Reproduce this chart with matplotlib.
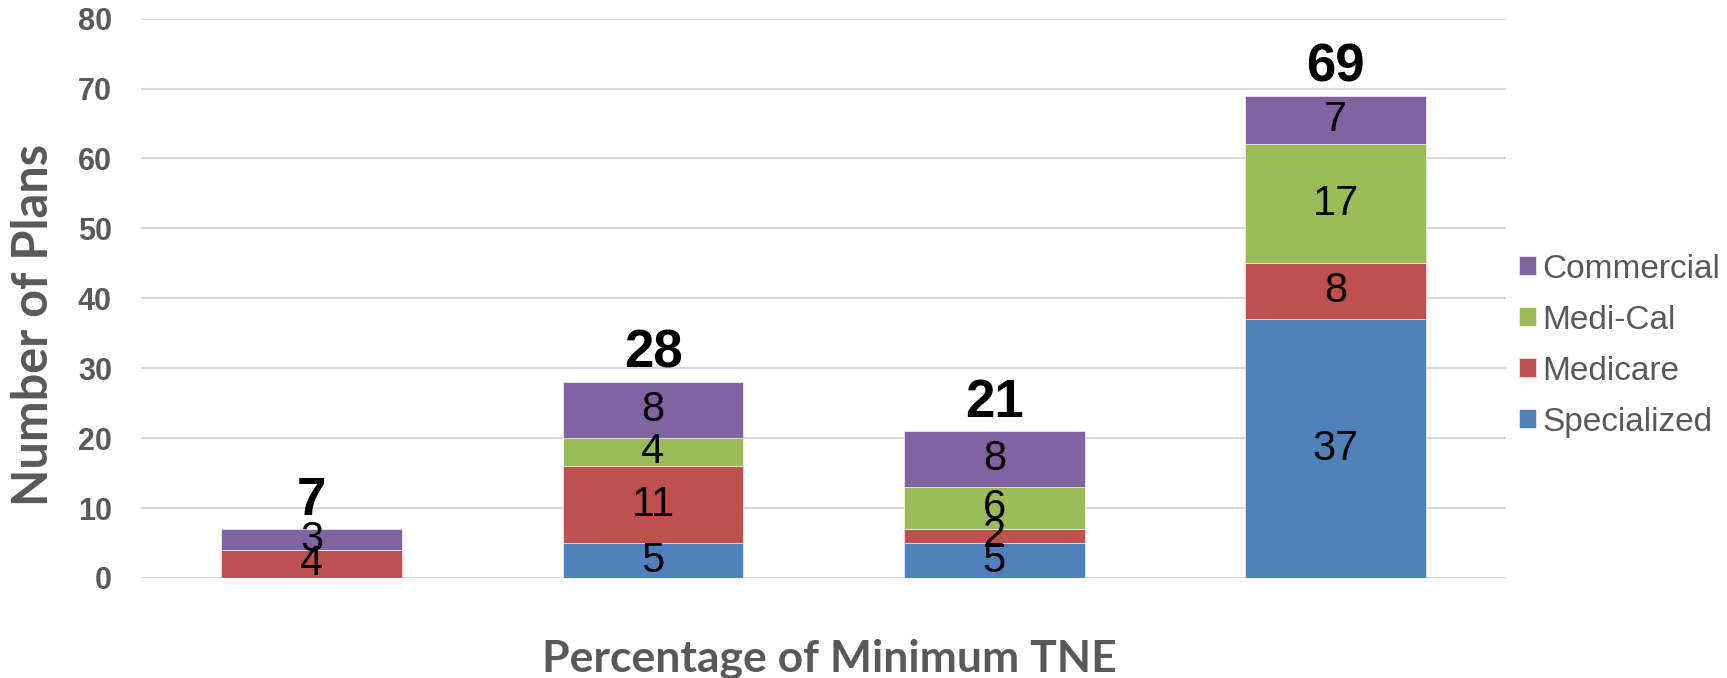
import matplotlib.pyplot as plt
import numpy as np

# chart data
groups = ["A", "B", "C", "D"]   # category names are not shown on the chart
specialized = [0, 5, 5, 37]
medicare = [4, 11, 2, 8]
medical = [0, 4, 6, 17]
commercial = [3, 8, 8, 7]
series_names = ["Specialized", "Medicare", "Medi-Cal", "Commercial"]
series_colors = ["#4F81BD", "#C0504D", "#9BBB59", "#8064A2"]
yticks = list(range(0, 81, 10))

fig = plt.figure(figsize=(17.27, 6.78), dpi=100)
ax = fig.add_axes([0.0817, 0.1475, 0.7905, 0.825])

x = np.arange(len(groups))
series = [specialized, medicare, medical, commercial]
bottom = np.zeros(len(groups))
for vals, name, col in zip(series, series_names, series_colors):
    vals = np.array(vals)
    ax.bar(x, vals, 0.53, bottom=bottom, color=col, label=name,
           edgecolor="white", linewidth=0.4, zorder=2)
    for xi, v, b in zip(x, vals, bottom):
        if v > 0:
            ax.text(xi, b + v / 2, str(v), ha="center", va="center",
                    fontsize=30, color="black", family="Liberation Sans", zorder=3)
    bottom += vals

# totals above each bar
for xi, tot in zip(x, bottom):
    ax.text(xi, tot + 0.5, str(int(tot)), ha="center", va="bottom",
            fontsize=38, fontweight="bold", color="black", family="Liberation Sans")

ax.set_xlim(-0.5, 3.5)
ax.set_ylim(0, 80)
ax.set_yticks(yticks)
ax.set_yticklabels([str(t) for t in yticks], fontsize=22, fontweight="bold",
                   color="#595959", family="Liberation Sans")
ax.set_xticks([])
ax.yaxis.grid(True, color="#D9D9D9", linewidth=1.5, zorder=0)
ax.set_axisbelow(True)
for s in ax.spines.values():
    s.set_visible(False)
ax.tick_params(axis="y", length=0, pad=21)

fig.text(34 / 1727, 1 - 325 / 678, "Number of Plans", rotation=90, ha="center",
         va="center", fontsize=35, fontweight="bold", color="#595959", family="Lato")
fig.text(829 / 1727, 0.029, "Percentage of Minimum TNE", ha="center", va="center",
         fontsize=32, fontweight="bold", color="#595959", family="Lato")

handles, labels = ax.get_legend_handles_labels()
leg = fig.legend(handles[::-1], labels[::-1], loc="center left",
                 bbox_to_anchor=(0.8795, 0.49), frameon=False, borderpad=0,
                 borderaxespad=0, prop={"family": "Liberation Sans", "size": 24},
                 handlelength=0.5, handleheight=0.5, handletextpad=0.2,
                 labelspacing=0.6, labelcolor="#595959")

fig.savefig("out.png", dpi=100)
